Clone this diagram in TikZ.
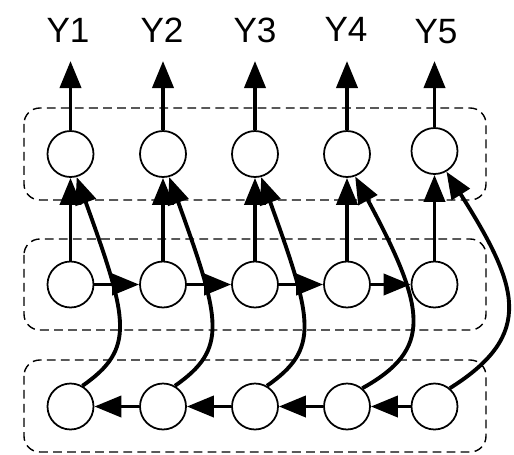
\documentclass[tikz,border=0pt]{standalone}
\usepackage{fontspec}
\setmainfont{Liberation Sans}
\usetikzlibrary{positioning, arrows.meta}

\begin{document}
\begin{tikzpicture}[x=0.02cm, y=-0.02cm,
  main node/.style={circle,draw,fill=white,line width=1pt,minimum size=0.92cm,inner sep=0pt},
  label node/.style={font=\fontsize{20}{24}\selectfont},
  flow/.style={line width=2.2pt,-{Triangle[length=0.54cm,width=0.42cm]}},
  layer box/.style={dash pattern=on 5pt off 3pt,line width=0.8pt,rounded corners=9pt}]

\useasboundingbox (0,0) rectangle (514,454);

\draw[layer box] (24,108) rectangle (486,200);
\draw[layer box] (24,239) rectangle (486,330);
\draw[layer box] (24,360) rectangle (486,452);

\foreach \i/\x/\y in {1/70.5/154, 2/163/154, 3/255/154, 4/347/154, 5/434.5/151}{
  \node[main node] (t\i) at (\x,\y) {};
  \node[main node] (m\i) at (\x,284.5) {};
  \node[main node] (b\i) at (\x,406.5) {};
  \coordinate (o\i) at (\x,61);
}

\foreach \i/\x/\y in {1/68/30, 2/162/30, 3/255/30, 4/346/29, 5/436/32}
  \node[label node] (y\i) at (\x,\y) {Y\i};

\foreach \i in {1,...,5}{
  \draw[flow] (t\i) -- (o\i);
  \draw[flow] (m\i) -- (t\i);
}
\foreach \i/\j in {1/2,2/3,3/4,4/5}{
  \draw[flow] (m\i) -- (m\j);
  \draw[flow] (b\j) -- (b\i);
}

\foreach \i in {1,2,3}
  \draw[flow] (b\i.60) .. controls +(53,-37) and +(52,144) .. (t\i.-75);
\draw[flow] (b4.50) .. controls +(70,-39) and +(72,134) .. (t4.-70);
\draw[flow] (b5.50) .. controls +(86,-54) and +(72,114) .. (t5.-60);

\end{tikzpicture}
\end{document}
